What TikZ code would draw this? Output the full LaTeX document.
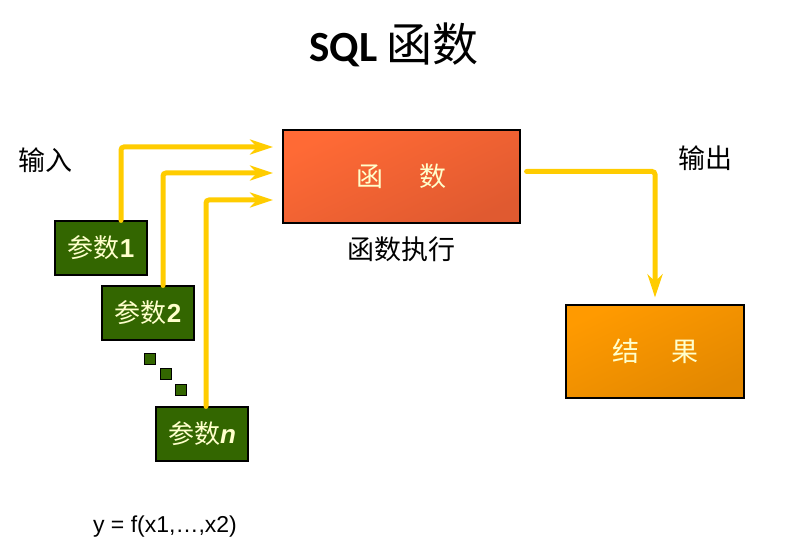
\documentclass[tikz,border=0pt]{standalone}
\usepackage{fontspec}
\setmainfont{Noto Sans CJK SC}
\newfontfamily\titlefont{Carlito}
\newfontfamily\arialfont{Liberation Sans}
\usepackage{tikz}
\usetikzlibrary{positioning, arrows.meta, calc}
\definecolor{flowyellow}{HTML}{FFCC00}
\definecolor{paramgreen}{HTML}{336600}
\definecolor{cream}{HTML}{FFFFCC}
\definecolor{funtop}{HTML}{FF6A35}
\definecolor{funbottom}{HTML}{E05A30}
\definecolor{restop}{HTML}{FF9A00}
\definecolor{resbottom}{HTML}{E38800}
\newcommand{\fsz}[1]{\fontsize{#1}{#1}\selectfont}

\begin{document}
\begin{tikzpicture}[
  x=1pt, y=-1pt,
  parambox/.style={draw=black, line width=1.2pt, fill=paramgreen,
    minimum width=92pt, minimum height=54pt, inner sep=0pt,
    text=cream, font=\fsz{26}},
  dotbox/.style={draw=black, line width=1pt, fill=paramgreen,
    minimum size=11pt, inner sep=0pt},
  bigbox/.style={draw=black, line width=1.2pt, minimum height=93pt,
    inner sep=0pt, text=cream, font=\fsz{27}},
  flow/.style={-{Stealth[length=23pt, width=15pt, inset=7pt]},
    draw=flowyellow, line width=5pt, rounded corners=3pt, line cap=round},
  label/.style={font=\fsz{27}}
]
\useasboundingbox (0,0) rectangle (803,553);

% Title
\node (title) at (394,45) {\titlefont\bfseries\fsz{43}SQL\hspace{9pt}\normalfont\fsz{46}函数};

% Function and result
\node[bigbox, minimum width=237pt, top color=funtop,
  bottom color=funbottom, shading angle=25]
  (fun) at (401.5,176.5) {函\hspace{36pt}数};
\node[label, below=10pt of fun] (exec) {函数执行};
\node[bigbox, minimum width=178pt, top color=restop,
  bottom color=resbottom, shading angle=25]
  (res) at (655,351.5) {结\hspace{32pt}果};

% Parameters
\node[parambox] (p1) at (101,248) {参数{\arialfont\bfseries 1}};
\node[parambox] (p2) at (148,313) {参数{\arialfont\bfseries 2}};
\node[parambox] (pn) at (202,434) {参数{\arialfont\bfseries\itshape n}};
\node[dotbox] (d1) at (149.5,359) {};
\node[dotbox] (d2) at (165.5,374) {};
\node[dotbox] (d3) at (180.5,390) {};

% Labels
\node[label] (in) at (45,160) {输入};
\node[label] (out) at (705,158) {输出};
\node[font=\arialfont\fsz{23}] (formula) at (165,527) {y = f(x1,…,x2)};

% Flows
\coordinate (in1) at (273,147);
\coordinate (in2) at (273,173);
\coordinate (in3) at (273,200);
\draw[flow] ([xshift=20pt]p1.north) |- (in1);
\draw[flow] ([xshift=15pt]p2.north) |- (in2);
\draw[flow] ([xshift=4pt]pn.north) |- (in3);
\draw[flow] ([xshift=6pt,yshift=5pt]fun.east) -| ([yshift=7pt]res.north);

\end{tikzpicture}
\end{document}
